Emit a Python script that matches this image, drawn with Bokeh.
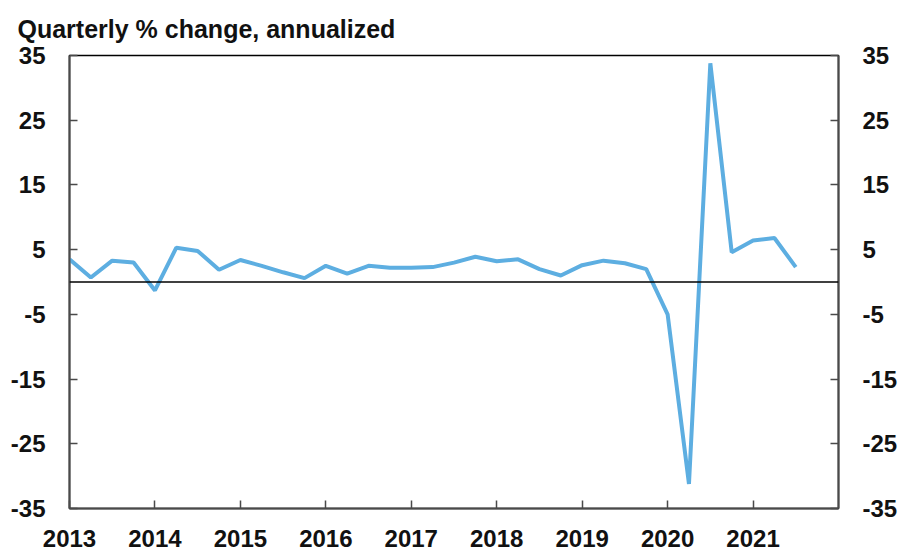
from bokeh.plotting import figure
from bokeh.models import (FixedTicker, LinearAxis, Span, Title, Range1d,
                          ColumnDataSource, CustomJSTickFormatter)
from bokeh.embed import file_html
from bokeh.resources import INLINE

# Quarterly real GDP growth, % change annualized
quarters = ["2013Q1", "2013Q2", "2013Q3", "2013Q4",
            "2014Q1", "2014Q2", "2014Q3", "2014Q4",
            "2015Q1", "2015Q2", "2015Q3", "2015Q4",
            "2016Q1", "2016Q2", "2016Q3", "2016Q4",
            "2017Q1", "2017Q2", "2017Q3", "2017Q4",
            "2018Q1", "2018Q2", "2018Q3", "2018Q4",
            "2019Q1", "2019Q2", "2019Q3", "2019Q4",
            "2020Q1", "2020Q2", "2020Q3", "2020Q4",
            "2021Q1", "2021Q2", "2021Q3"]
growth = [3.5, 0.7, 3.3, 3.0,
          -1.3, 5.3, 4.8, 1.9,
          3.4, 2.5, 1.5, 0.6,
          2.5, 1.3, 2.5, 2.2,
          2.2, 2.3, 3.0, 3.9,
          3.2, 3.5, 2.0, 1.0,
          2.6, 3.3, 2.9, 2.0,
          -5.0, -31.2, 33.8, 4.6,
          6.4, 6.8, 2.3]
year_ticks = [2013, 2014, 2015, 2016, 2017, 2018, 2019, 2020, 2021]
y_ticks = [-35, -25, -15, -5, 5, 15, 25, 35]
title_text = "Quarterly % change, annualized"

xpos = [int(q[:4]) + (int(q[5]) - 1) / 4 for q in quarters]
src = ColumnDataSource(data=dict(x=xpos, y=growth))

FONT = "Liberation Sans"
p = figure(width=903, height=554, output_backend="svg", toolbar_location=None,
           x_range=Range1d(2013, 2022), y_range=Range1d(-35, 35),
           min_border_left=69, min_border_right=65, min_border_top=55, min_border_bottom=46)
p.background_fill_color = "white"
p.border_fill_color = "white"
p.outline_line_color = "black"
p.outline_line_width = 1.5
p.xgrid.visible = False
p.ygrid.visible = False

p.title = Title(text=title_text, text_font=FONT, text_font_size="25px",
                text_font_style="bold", text_color="#111111", align="left",
                offset=-52, standoff=25)

p.add_layout(Span(location=0, dimension="width", line_color="black", line_width=1.5))
p.line("x", "y", source=src, line_color="#5DAEE1", line_width=4)

fmt = CustomJSTickFormatter(code="return tick.toString();")

def style_axis(ax, standoff, size="24px"):
    ax.formatter = fmt
    ax.major_tick_in = 8
    ax.major_tick_out = 0
    ax.minor_tick_in = 0
    ax.minor_tick_out = 0
    ax.axis_line_color = "#4a4a4a"
    ax.axis_line_width = 2
    ax.major_tick_line_color = "#4a4a4a"
    ax.major_tick_line_width = 1.5
    ax.major_label_text_font = FONT
    ax.major_label_text_font_size = size
    ax.major_label_text_font_style = "bold"
    ax.major_label_text_color = "#111111"
    ax.major_label_standoff = standoff

xa = p.xaxis[0]
xa.ticker = FixedTicker(ticks=year_ticks)
style_axis(xa, 21)

ya = p.yaxis[0]
ya.ticker = FixedTicker(ticks=y_ticks)
style_axis(ya, 24)

yr = LinearAxis(ticker=FixedTicker(ticks=y_ticks))
style_axis(yr, 24)
p.add_layout(yr, "right")

open("out.html", "w").write(file_html(p, INLINE))
